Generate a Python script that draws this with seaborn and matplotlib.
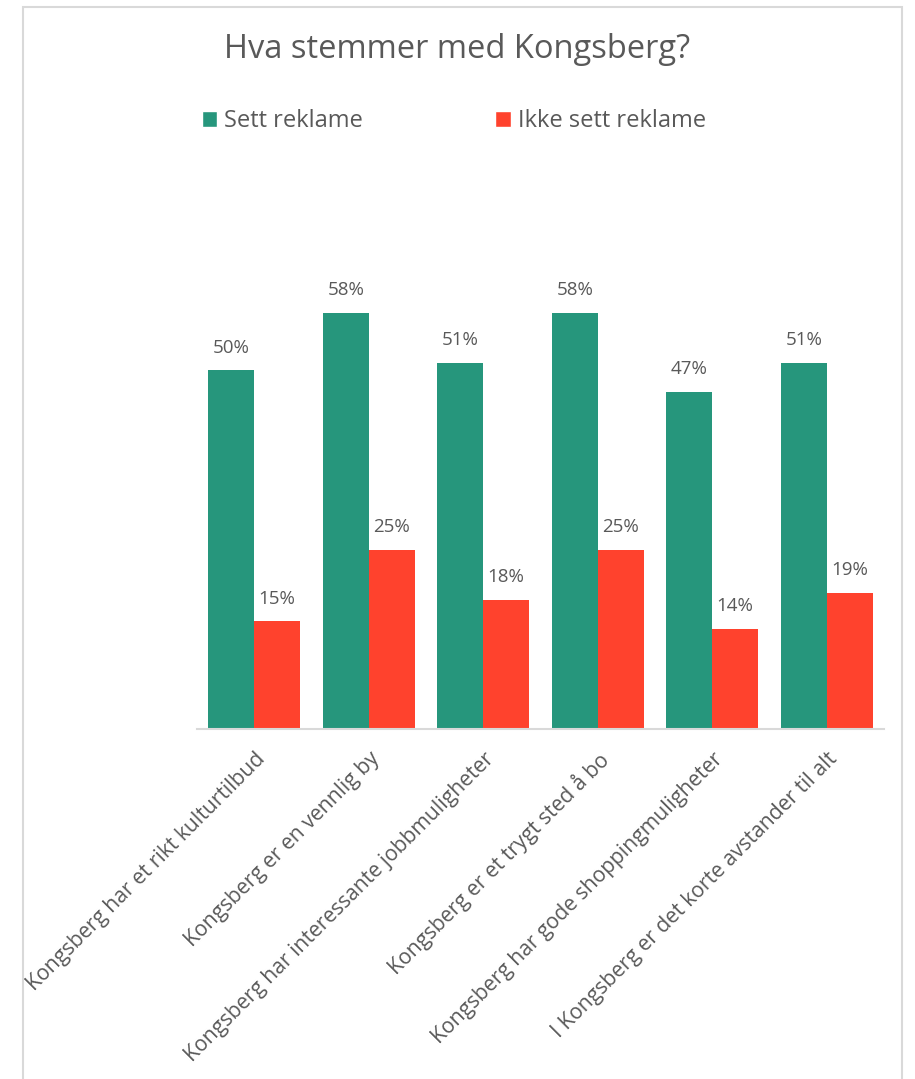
import matplotlib
matplotlib.use("Agg")
import matplotlib.pyplot as plt
import seaborn as sns
import pandas as pd
from matplotlib.patches import Rectangle, Patch

categories = [
    "Kongsberg har et rikt kulturtilbud",
    "Kongsberg er en vennlig by",
    "Kongsberg har interessante jobbmuligheter",
    "Kongsberg er et trygt sted å bo",
    "Kongsberg har gode shoppingmuligheter",
    "I Kongsberg er det korte avstander til alt",
]
series = ["Sett reklame", "Ikke sett reklame"]
sett = [0.50, 0.58, 0.51, 0.58, 0.47, 0.51]
ikke_sett = [0.15, 0.25, 0.18, 0.25, 0.14, 0.19]
colors = ["#26967C", "#FF422D"]
title = "Hva stemmer med Kongsberg?"

df = pd.DataFrame({
    "kategori": categories * 2,
    "gruppe": [series[0]] * len(categories) + [series[1]] * len(categories),
    "verdi": sett + ikke_sett,
})

sns.set_theme(style="white")
plt.rcParams["font.family"] = ["Open Sans", "DejaVu Sans"]
textc = "#595959"

fig = plt.figure(figsize=(9.15, 10.79), dpi=100)
ax = fig.add_axes([197 / 915, 1 - 729 / 1079, (884 - 197) / 915, 502 / 1079])

sns.barplot(data=df, x="kategori", y="verdi", hue="gruppe", order=categories,
            hue_order=series, palette=colors, width=0.8, linewidth=0,
            saturation=1, ax=ax, legend=False)

ax.set_ylim(0, 0.70)
ax.set_xlim(-0.5, len(categories) - 0.5)
for c in ax.containers:
    ax.bar_label(c, labels=[f"{v*100:.0f}%" for v in c.datavalues],
                 padding=10, fontsize=13.5, color=textc)

ax.set_xlabel("")
ax.set_ylabel("")
ax.set_yticks([])
ax.tick_params(axis="x", length=0, pad=14)
ax.set_xticks(range(len(categories)))
ax.set_xticklabels(categories, rotation=45, ha="right", rotation_mode="anchor",
                   fontsize=15.2, color=textc)
for s in ["top", "right", "left"]:
    ax.spines[s].set_visible(False)
ax.spines["bottom"].set_color("#D9D9D9")
ax.spines["bottom"].set_linewidth(1.5)

fig.text(0.5, 1 - 50 / 1079, title, ha="center", va="center", fontsize=23.5,
         color=textc)

handles = [Patch(facecolor=colors[0]), Patch(facecolor=colors[1])]
fig.legend(handles, series, loc="center", bbox_to_anchor=(454 / 915, 1 - 121 / 1079),
           ncol=2, frameon=False, fontsize=17, labelcolor=textc,
           handlelength=0.65, handleheight=0.65, handletextpad=0.3,
           columnspacing=5.6)

fig.patches.append(Rectangle((23 / 915, -0.01), (902 - 23) / 915, 1 - 7 / 1079 + 0.01,
                             transform=fig.transFigure, fill=False,
                             edgecolor="#D9D9D9", linewidth=1.5))

fig.savefig("out.png", dpi=100, facecolor="white")
